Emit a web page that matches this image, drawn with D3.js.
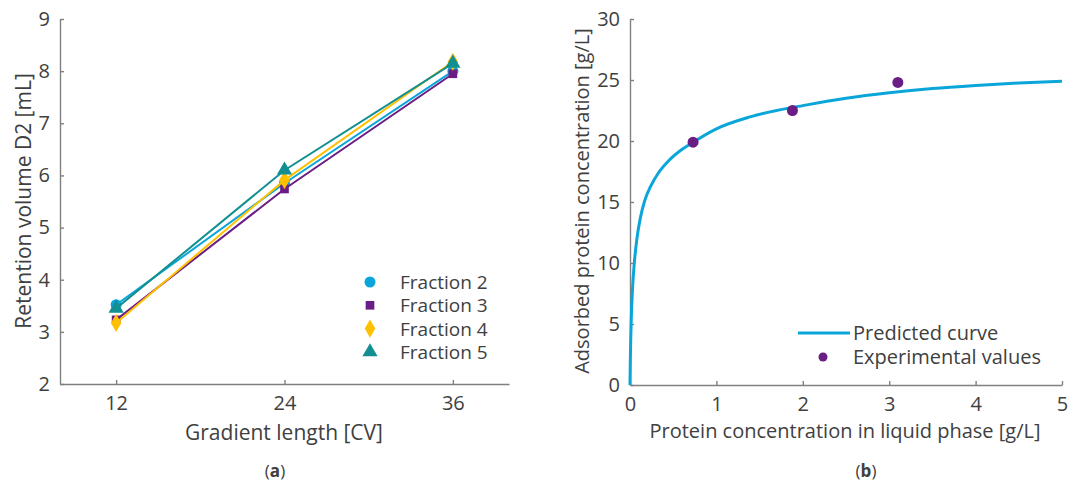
<!DOCTYPE html>
<html>
<head>
<meta charset="utf-8">
<script src="https://cdn.jsdelivr.net/npm/d3@7"></script>
<style>
  body { margin: 0; background: #fff; }
  text { font-family: "Open Sans", "Noto Sans", sans-serif; fill: #404040; }
  .axis path, .axis line { stroke: #808080; stroke-width: 1.4; }
  .axis text { font-size: 20px; fill: #404040; font-family: "Open Sans", sans-serif; }
</style>
</head>
<body>
<script>
// ---------- data (a) ----------
var gradientLengths = [12, 24, 36];
var fractionNames = ["Fraction 2", "Fraction 3", "Fraction 4", "Fraction 5"];
var fraction2 = [3.52, 5.85, 8.0];
var fraction3 = [3.23, 5.74, 7.95];
var fraction4 = [3.17, 5.91, 8.18];
var fraction5 = [3.45, 6.1, 8.15];
var yTicksA = [2, 3, 4, 5, 6, 7, 8, 9];

// ---------- data (b) ----------
var curveC = [0, 0.005, 0.015, 0.03, 0.05, 0.08, 0.12, 0.17, 0.24, 0.33, 0.45, 0.6, 0.73, 1.0, 1.4, 2.0, 2.5, 3, 3.5, 4, 4.5, 5];
var curveQ = [0, 2.5, 5.5, 8.0, 10.0, 12.0, 13.7, 15.1, 16.3, 17.4, 18.4, 19.3, 19.9, 21.0, 22.0, 22.9, 23.5, 23.95, 24.3, 24.55, 24.75, 24.9];
var expC = [0.73, 1.88, 3.1];
var expQ = [19.9, 22.5, 24.8];
var xTicksB = [0, 1, 2, 3, 4, 5];
var yTicksB = [0, 5, 10, 15, 20, 25, 30];

var colors = ["#0aa6da", "#6b1d86", "#ffc000", "#138f91"];
var shapes = [d3.symbolCircle, d3.symbolSquare, d3.symbolDiamond, d3.symbolTriangle];
var sizes = [95, 75, 95, 100];

var svg = d3.select("body").append("svg")
  .attr("width", 1071).attr("height", 481);

///////////////////////
// Panel (a)
var xA = d3.scaleLinear().domain([8, 40]).range([60, 509]);
var yA = d3.scaleLinear().domain([2, 9]).range([384, 19]);

svg.append("g").attr("class", "axis")
  .attr("transform", "translate(0,384)")
  .call(d3.axisBottom(xA).tickValues(gradientLengths).tickFormat(d3.format("d"))
    .tickSizeInner(-4).tickSizeOuter(0).tickPadding(12));
svg.append("g").attr("class", "axis")
  .attr("transform", "translate(60,0)")
  .call(d3.axisLeft(yA).tickValues(yTicksA).tickFormat(d3.format("d"))
    .tickSizeInner(-4).tickSizeOuter(0).tickPadding(10));

var seriesA = [fraction2, fraction3, fraction4, fraction5];
var lineA = d3.line()
  .x(function(d, i) { return xA(gradientLengths[i]); })
  .y(function(d) { return yA(d); });

seriesA.forEach(function(vals, k) {
  svg.append("path")
    .datum(vals)
    .attr("fill", "none")
    .attr("stroke", colors[k])
    .attr("stroke-width", 2)
    .attr("d", lineA);
  svg.append("g").selectAll("path")
    .data(vals).enter().append("path")
    .attr("d", d3.symbol().type(shapes[k]).size(sizes[k]))
    .attr("transform", function(d, i) { return "translate(" + xA(gradientLengths[i]) + "," + yA(d) + ")"; })
    .attr("fill", colors[k]);
});

// legend (a)
fractionNames.forEach(function(name, k) {
  var ly = 282 + k * 23.3;
  svg.append("path")
    .attr("d", d3.symbol().type(shapes[k]).size(sizes[k]))
    .attr("transform", "translate(370," + ly + ")")
    .attr("fill", colors[k]);
  svg.append("text").attr("x", 400).attr("y", ly + 7)
    .attr("font-size", "19px").text(name);
});

svg.append("text")
  .attr("transform", "translate(31,201) rotate(-90)")
  .attr("text-anchor", "middle").attr("font-size", "21px")
  .text("Retention volume D2 [mL]");
svg.append("text")
  .attr("x", 284).attr("y", 440).attr("text-anchor", "middle").attr("font-size", "21px")
  .text("Gradient length [CV]");

var capA = svg.append("text")
  .attr("x", 275).attr("y", 477).attr("text-anchor", "middle").attr("font-size", "17px");
capA.append("tspan").text("(");
capA.append("tspan").attr("font-weight", "bold").text("a");
capA.append("tspan").text(")");

///////////////////////
// Panel (b)
var xB = d3.scaleLinear().domain([0, 5]).range([630, 1062]);
var yB = d3.scaleLinear().domain([0, 30]).range([385, 19]);

svg.append("g").attr("class", "axis")
  .attr("transform", "translate(0,385)")
  .call(d3.axisBottom(xB).tickValues(xTicksB).tickFormat(d3.format("d"))
    .tickSizeInner(-4).tickSizeOuter(0).tickPadding(12));
svg.append("g").attr("class", "axis")
  .attr("transform", "translate(630,0)")
  .call(d3.axisLeft(yB).tickValues(yTicksB).tickFormat(d3.format("d"))
    .tickSizeInner(-4).tickSizeOuter(0).tickPadding(10));

var lineB = d3.line()
  .x(function(d, i) { return xB(curveC[i]); })
  .y(function(d) { return yB(d); })
  .curve(d3.curveMonotoneX);

svg.append("path")
  .datum(curveQ)
  .attr("fill", "none")
  .attr("stroke", colors[0])
  .attr("stroke-width", 3)
  .attr("d", lineB);

svg.append("g").selectAll("circle")
  .data(expQ).enter().append("circle")
  .attr("cx", function(d, i) { return xB(expC[i]); })
  .attr("cy", function(d) { return yB(d); })
  .attr("r", 5.5)
  .attr("fill", colors[1]);

// legend (b)
svg.append("line").attr("x1", 798).attr("x2", 850).attr("y1", 333).attr("y2", 333)
  .attr("stroke", colors[0]).attr("stroke-width", 3);
svg.append("text").attr("x", 853).attr("y", 340).attr("font-size", "20px").text("Predicted curve");
svg.append("circle").attr("cx", 823).attr("cy", 357).attr("r", 4.5).attr("fill", colors[1]);
svg.append("text").attr("x", 853).attr("y", 364).attr("font-size", "20px").text("Experimental values");

svg.append("text")
  .attr("transform", "translate(589,201) rotate(-90)")
  .attr("text-anchor", "middle").attr("font-size", "20px")
  .text("Adsorbed protein concentration [g/L]");
svg.append("text")
  .attr("x", 845).attr("y", 438).attr("text-anchor", "middle").attr("font-size", "20px")
  .text("Protein concentration in liquid phase [g/L]");

var capB = svg.append("text")
  .attr("x", 866).attr("y", 477).attr("text-anchor", "middle").attr("font-size", "17px");
capB.append("tspan").text("(");
capB.append("tspan").attr("font-weight", "bold").text("b");
capB.append("tspan").text(")");
</script>
</body>
</html>
